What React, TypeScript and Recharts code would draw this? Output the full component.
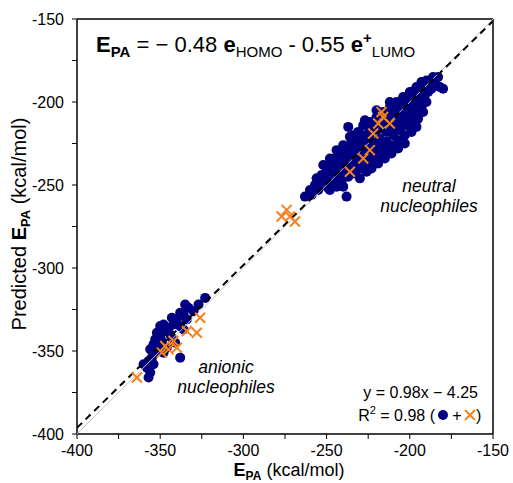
import React from "react";
import { ScatterChart, Scatter, XAxis, YAxis, ReferenceLine } from "recharts";

const FONT = "'Liberation Sans', Arial, Helvetica, sans-serif";
const NAVY = "#000080";
const ORANGE = "#f5821f";

const W = 513;
const H = 483;

// ticks every 25, labels every 50
const AXIS_TICKS = [-400, -375, -350, -325, -300, -275, -250, -225, -200, -175, -150];
const AXIS_RANGE = [-400, -150];

// fit line y = 0.98x - 4.25
const FIT_SLOPE = 0.98;
const FIT_INTERCEPT = -4.25;

// blue dots: neutral nucleophiles [E_PA, predicted]
const NEUTRAL_DOTS: [number, number][] = [
  [-263, -257], [-260, -253], [-259, -256], [-257, -250], [-256, -246], [-255, -253], [-254, -248], [-253, -244],
  [-252, -250], [-252, -238], [-251, -246], [-250, -242], [-249, -239], [-249, -252], [-248, -253], [-248, -234],
  [-247, -248], [-246, -243], [-246, -237], [-245, -234], [-244, -251], [-244, -229], [-243, -246], [-243, -240],
  [-242, -236], [-241, -231], [-241, -248], [-240, -251], [-240, -243], [-240, -226], [-239, -238], [-239, -233],
  [-238, -228], [-238, -257], [-237, -215], [-237, -245], [-236, -240], [-236, -235], [-236, -221], [-235, -230],
  [-235, -225], [-234, -220], [-233, -243], [-233, -238], [-232, -233], [-232, -228], [-231, -223], [-231, -218],
  [-230, -246], [-230, -240], [-229, -235], [-229, -230], [-228, -225], [-228, -220], [-228, -214], [-227, -211],
  [-226, -242], [-226, -237], [-226, -232], [-225, -227], [-225, -222], [-224, -217], [-224, -212], [-223, -240],
  [-223, -235], [-222, -230], [-222, -225], [-221, -220], [-221, -214], [-220, -209], [-220, -205], [-219, -237],
  [-219, -232], [-218, -227], [-218, -222], [-217, -216], [-217, -211], [-216, -206], [-215, -234], [-215, -229],
  [-214, -224], [-214, -218], [-213, -213], [-213, -208], [-212, -203], [-212, -200], [-211, -231], [-211, -226],
  [-210, -220], [-210, -215], [-209, -210], [-209, -205], [-208, -200], [-207, -228], [-207, -223], [-206, -217],
  [-206, -212], [-205, -207], [-205, -202], [-204, -197], [-203, -225], [-203, -220], [-202, -214], [-202, -209],
  [-201, -204], [-201, -199], [-200, -194], [-199, -218], [-199, -213], [-198, -208], [-198, -203], [-197, -198],
  [-197, -193], [-196, -215], [-196, -191], [-195, -210], [-195, -205], [-194, -200], [-194, -195], [-193, -190],
  [-193, -188], [-192, -206], [-192, -201], [-191, -196], [-191, -191], [-190, -187], [-190, -200], [-189, -194],
  [-188, -189], [-187, -192], [-186, -185], [-185, -189], [-183, -185], [-182, -191], [-180, -192],
];

// blue dots: anionic nucleophiles
const ANIONIC_DOTS: [number, number][] = [
  [-323, -318], [-327, -322], [-330, -326], [-333, -324], [-335, -322], [-336, -328], [-334, -331], [-338, -327],
  [-340, -331], [-338, -335], [-342, -334], [-343, -330], [-345, -336], [-344, -340], [-347, -338], [-348, -334],
  [-350, -341], [-349, -344], [-352, -339], [-353, -343], [-351, -347], [-354, -346], [-356, -349], [-353, -351],
  [-355, -354], [-357, -356], [-354, -358], [-358, -360], [-356, -363], [-357, -366], [-360, -358], [-338, -354],
  [-341, -345], [-346, -348], [-348, -351], [-343, -342], [-336, -337], [-350, -335],
];

// orange crosses
const CROSS_POINTS: [number, number][] = [
  [-236, -242], [-228, -234], [-224, -229], [-222, -219], [-219, -213], [-216, -209], [-212, -213], [-217, -206],
  [-277, -269], [-274, -265], [-272, -269], [-269, -272],
  [-326, -330], [-334, -338], [-328, -339], [-342, -344], [-347, -347], [-340, -348], [-349, -351], [-345, -349],
  [-364, -366],
];

const toData = (pts: [number, number][]) => pts.map(([x, y]) => ({ x, y }));
const fit = (x: number) => FIT_SLOPE * x + FIT_INTERCEPT;

const Dot = (props: any) => <circle cx={props.cx} cy={props.cy} r={5} fill={NAVY} />;
const NoShape = () => <g />;

const Cross = (props: any) => {
  const { cx, cy } = props;
  const s = 5;
  return (
    <g stroke={ORANGE} strokeWidth={2}>
      <line x1={cx - s} y1={cy - s} x2={cx + s} y2={cy + s} />
      <line x1={cx - s} y1={cy + s} x2={cx + s} y2={cy - s} />
    </g>
  );
};

const tickStyle = { fontSize: 16, fill: "#000", fontFamily: FONT };

export default function App() {
  const blue = [...toData(NEUTRAL_DOTS), ...toData(ANIONIC_DOTS)];
  const orange = toData(CROSS_POINTS);
  const identity = AXIS_RANGE.map((v) => ({ x: v, y: v }));
  const fitLine = AXIS_RANGE.map((v) => ({ x: v, y: fit(v) }));

  return (
    <div style={{ position: "absolute", left: 0, top: 0, width: W, height: H, fontFamily: FONT }}>
      <ScatterChart width={W} height={H} margin={{ top: 19, right: 20, bottom: 0, left: 0 }}>
        <XAxis
          type="number"
          dataKey="x"
          domain={AXIS_RANGE}
          allowDataOverflow
          ticks={AXIS_TICKS}
          interval={0}
          height={49}
          tickSize={5}
          tickMargin={6}
          stroke="#000"
          axisLine={{ stroke: "#000", strokeWidth: 1.5 }}
          tickLine={{ stroke: "#000" }}
          tick={tickStyle}
          tickFormatter={(v) => (v % 50 === 0 ? String(v) : "")}
        />
        <YAxis
          type="number"
          dataKey="y"
          domain={AXIS_RANGE}
          allowDataOverflow
          ticks={AXIS_TICKS}
          interval={0}
          width={77}
          tickSize={5}
          tickMargin={8}
          stroke="#000"
          axisLine={{ stroke: "#000", strokeWidth: 1.5 }}
          tickLine={{ stroke: "#000" }}
          tick={tickStyle}
          tickFormatter={(v) => (v % 50 === 0 ? String(v) : "")}
        />
        <ReferenceLine y={-150} stroke="#000" strokeWidth={1.5} />
        <ReferenceLine x={-150} stroke="#000" strokeWidth={1.5} />
        <Scatter data={blue} shape={Dot} isAnimationActive={false} />
        <Scatter
          data={identity}
          shape={NoShape}
          fill="#c8c8c8"
          line={{ stroke: "#c8c8c8", strokeWidth: 1 }}
          isAnimationActive={false}
        />
        <Scatter
          data={fitLine}
          shape={NoShape}
          fill="#000"
          line={{ stroke: "#000", strokeWidth: 2, strokeDasharray: "7 5" }}
          isAnimationActive={false}
        />
        <Scatter data={orange} shape={Cross} isAnimationActive={false} />
      </ScatterChart>

      <svg
        width={W}
        height={H}
        style={{ position: "absolute", left: 0, top: 0, pointerEvents: "none", whiteSpace: "pre" }}
        fontFamily={FONT}
      >
        {/* model equation */}
        <text x={96} y={52} fontSize={22} fill="#000">
          <tspan fontWeight="bold">E</tspan>
          <tspan fontWeight="bold" fontSize={15} dy={5}>PA</tspan>
          <tspan dy={-5}>{" = − 0.48 "}</tspan>
          <tspan fontWeight="bold">e</tspan>
          <tspan fontSize={15} dy={5}>HOMO</tspan>
          <tspan dy={-5}>{" - 0.55 "}</tspan>
          <tspan fontWeight="bold">e</tspan>
          <tspan fontWeight="bold" fontSize={15} dy={-9}>+</tspan>
          <tspan fontSize={15} dy={14}>LUMO</tspan>
        </text>

        <text x={429} y={192} fontSize={17.5} fontStyle="italic" textAnchor="middle" fill="#000">neutral</text>
        <text x={429} y={212} fontSize={17.5} fontStyle="italic" textAnchor="middle" fill="#000">nucleophiles</text>
        <text x={226} y={373} fontSize={17.5} fontStyle="italic" textAnchor="middle" fill="#000">anionic</text>
        <text x={226} y={393} fontSize={17.5} fontStyle="italic" textAnchor="middle" fill="#000">nucleophiles</text>

        {/* fit stats */}
        <text x={478} y={398} fontSize={16} textAnchor="end" fill="#000">
          {`y = ${FIT_SLOPE}x − ${Math.abs(FIT_INTERCEPT)}`}
        </text>
        <text x={435} y={421} fontSize={16} textAnchor="end" fill="#000">
          <tspan>R</tspan>
          <tspan fontSize={11} dy={-7}>2</tspan>
          <tspan dy={7}>{" = 0.98 ("}</tspan>
        </text>
        <circle cx={443} cy={415} r={5} fill={NAVY} />
        <text x={457} y={421} fontSize={16} textAnchor="middle" fill="#000">+</text>
        <Cross cx={470} cy={415} />
        <text x={476} y={421} fontSize={16} fill="#000">)</text>

        {/* axis titles */}
        <text x={289} y={476} fontSize={18} textAnchor="middle" fill="#000">
          <tspan fontWeight="bold">E</tspan>
          <tspan fontWeight="bold" fontSize={12} dy={4}>PA</tspan>
          <tspan dy={-4}>{" (kcal/mol)"}</tspan>
        </text>
        <text
          x={0}
          y={0}
          fontSize={20}
          textAnchor="middle"
          fill="#000"
          transform="translate(26, 224) rotate(-90)"
        >
          <tspan>{"Predicted "}</tspan>
          <tspan fontWeight="bold">E</tspan>
          <tspan fontWeight="bold" fontSize={13} dy={4}>PA</tspan>
          <tspan dy={-4}>{" (kcal/mol)"}</tspan>
        </text>
      </svg>
    </div>
  );
}
